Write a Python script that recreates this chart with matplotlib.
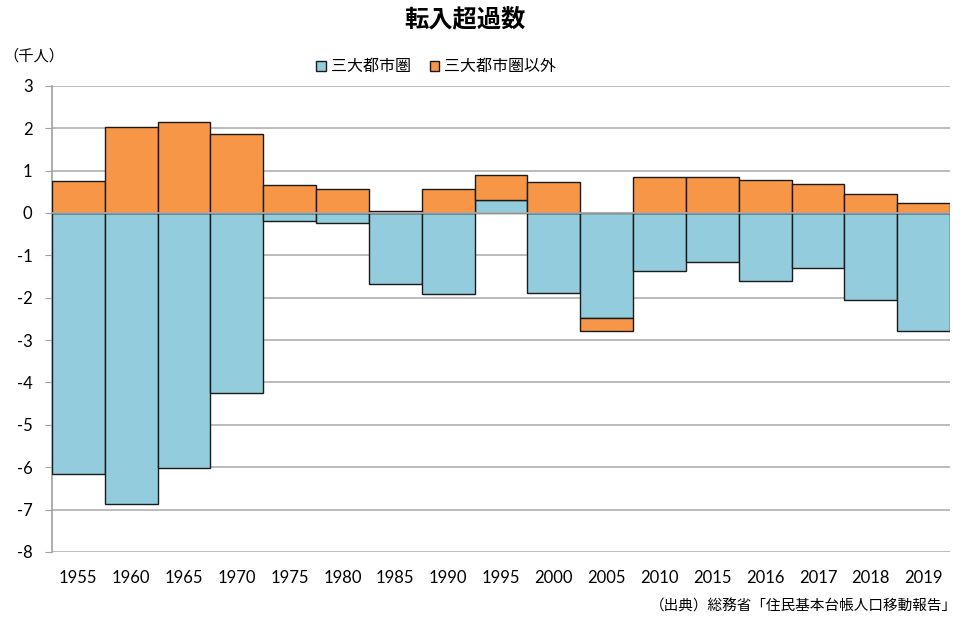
import matplotlib
matplotlib.use("Agg")
import matplotlib.pyplot as plt
from matplotlib.patches import Patch

plt.rcParams['font.family'] = ['Noto Sans CJK JP', 'DejaVu Sans']

years = ["1955", "1960", "1965", "1970", "1975", "1980", "1985", "1990", "1995",
         "2000", "2005", "2010", "2015", "2016", "2017", "2018", "2019"]
metro = [-6.15, -6.86, -6.03, -4.26, -0.20, -0.23, -1.67, -1.91, 0.31,
         -1.89, -2.48, -1.38, -1.15, -1.60, -1.30, -2.05, -2.78]
non_metro = [0.76, 2.02, 2.15, 1.86, 0.67, 0.57, 0.05, 0.57, 0.59,
             0.73, -0.30, 0.85, 0.85, 0.78, 0.68, 0.45, 0.23]
yticks = [3, 2, 1, 0, -1, -2, -3, -4, -5, -6, -7, -8]

blue = "#93CCDD"
orange = "#F79646"
edge = "#1a1a1a"

fig = plt.figure(figsize=(9.61, 6.18), dpi=100)
ax = fig.add_axes([0.054, 0.107, 0.9346, 0.754])

x = list(range(len(years)))
ax.bar(x, metro, width=1.0, color=blue, edgecolor=edge, linewidth=1.0, zorder=3)
bottoms = []
for m, n in zip(metro, non_metro):
    if n >= 0:
        bottoms.append(m if m > 0 else 0)
    else:
        bottoms.append(m if m < 0 else 0)
ax.bar(x, non_metro, width=1.0, bottom=bottoms, color=orange, edgecolor=edge,
       linewidth=1.0, zorder=3)

ax.set_xlim(-0.5, len(years) - 0.5)
ax.set_ylim(-8, 3)
ax.set_yticks(yticks)
ax.set_yticklabels([str(v) for v in yticks], fontsize=12, family=['Lato', 'DejaVu Sans'])
ax.set_xticks(x)
ax.set_xticklabels(years, fontsize=12, family=['Lato', 'DejaVu Sans'])
ax.tick_params(axis='x', length=0, pad=13)
ax.tick_params(axis='y', length=5, color='#a0a0a0', pad=9)
ax.yaxis.grid(True, color='#b0b0b0', linewidth=1.2, zorder=0)
ax.set_axisbelow(True)
for s in ['top', 'right', 'bottom']:
    ax.spines[s].set_visible(False)
ax.spines['left'].set_color('#a0a0a0')
ax.spines['left'].set_linewidth(1.2)
ax.axhline(0, color='#b0b0b0', linewidth=1.2, zorder=4)

fig.text(0.484, 0.968, "転入超過数", ha='center', va='center', fontsize=17.5, fontweight='bold')
fig.text(0.004, 0.91, "（千人）", ha='left', va='center', fontsize=11)
handles = [Patch(facecolor=blue, edgecolor=edge, label="三大都市圏"),
           Patch(facecolor=orange, edgecolor=edge, label="三大都市圏以外")]
fig.legend(handles=handles, loc='center', bbox_to_anchor=(0.454, 0.892), ncol=2,
           frameon=False, fontsize=11.5, handlelength=0.6, handleheight=0.6,
           handletextpad=0.3, columnspacing=1.2)
fig.text(0.996, 0.018, "（出典）総務省「住民基本台帳人口移動報告」", ha='right', va='center',
         fontsize=10.5)

fig.savefig("out.png", dpi=100)
